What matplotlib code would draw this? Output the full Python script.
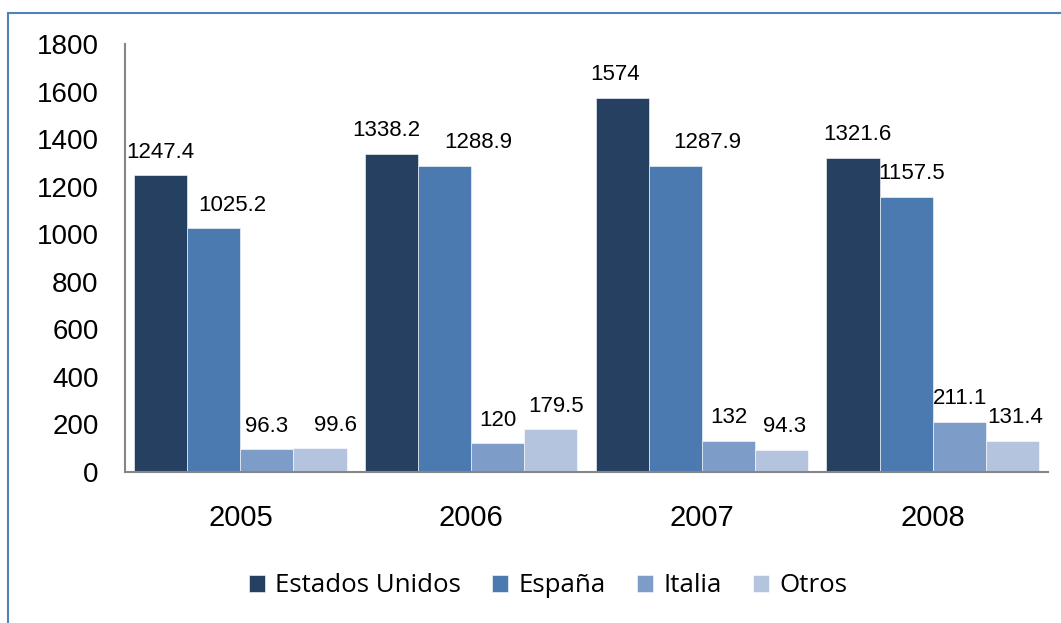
import matplotlib
matplotlib.use('Agg')
import matplotlib.pyplot as plt
import numpy as np
from matplotlib.patches import Rectangle

years = ['2005', '2006', '2007', '2008']
series = ['Estados Unidos', 'España', 'Italia', 'Otros']
estados_unidos = [1247.4, 1338.2, 1574, 1321.6]
espana = [1025.2, 1288.9, 1287.9, 1157.5]
italia = [96.3, 120, 132, 211.1]
otros = [99.6, 179.5, 94.3, 131.4]
colores = ['#264061', '#4A7AB0', '#7E9CC8', '#B4C3DE']

plt.rcParams['font.family'] = ['Liberation Sans', 'DejaVu Sans']

fig = plt.figure(figsize=(10.61, 6.23), dpi=100)
ax = fig.add_axes([125 / 1061, 151 / 623, 923 / 1061, 428 / 623])

x = np.arange(len(years))
w = 0.23
valores = [estados_unidos, espana, italia, otros]
# pequeños desplazamientos horizontales de las etiquetas (en puntos), como en Excel
nudges = [[0, -4, -5, 3], [13, 24, 23, 4], [0, 0, 0, 1], [11, 4, 2, 2]]
for i, (nombre, vals) in enumerate(zip(series, valores)):
    pos = x + (i - 1.5) * w
    bars = ax.bar(pos, vals, width=w, color=colores[i], label=nombre,
                  edgecolor='white', linewidth=0.4)
    for j, (b, v) in enumerate(zip(bars, vals)):
        txt = f'{v:g}'
        ax.annotate(txt, (b.get_x() + b.get_width() / 2, v), xytext=(nudges[i][j], 9),
                    textcoords='offset points', ha='center', va='bottom',
                    fontsize=16)

ax.set_xlim(-0.5, 3.5)
ax.set_ylim(0, 1800)
ax.set_yticks(range(0, 1801, 200))
ax.set_xticks(x)
ax.set_xticklabels(years, fontsize=21)
ax.tick_params(axis='y', length=0, labelsize=20, pad=19)
ax.tick_params(axis='x', length=0, pad=23)
for s in ['top', 'right']:
    ax.spines[s].set_visible(False)
for s in ['left', 'bottom']:
    ax.spines[s].set_color('#868686')
    ax.spines[s].set_linewidth(1.5)

leg = fig.legend(loc='center', bbox_to_anchor=(548 / 1061, 1 - 586 / 623), ncol=4,
                 frameon=False, prop={'family': 'Open Sans', 'size': 18.6},
                 handlelength=0.62, handleheight=0.62, handletextpad=0.4,
                 columnspacing=1.2)

# marco azul alrededor del grafico
fig.patches.append(Rectangle((8 / 1061, -0.1), 1.2, 1 - 13 / 623 + 0.1,
                             transform=fig.transFigure, fill=False,
                             edgecolor='#4F81BD', linewidth=1.5))

fig.savefig('out.png', dpi=100)
